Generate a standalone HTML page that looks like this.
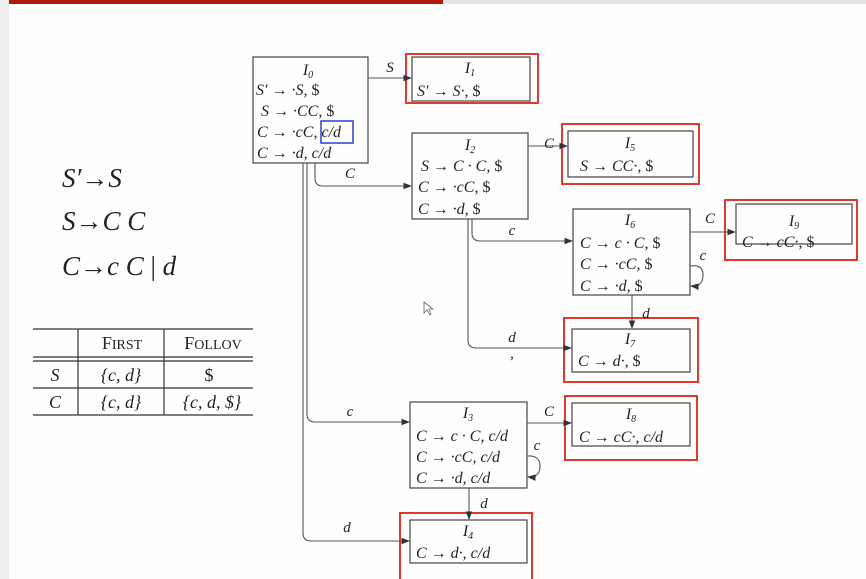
<!DOCTYPE html>
<html><head><meta charset="utf-8"><style>
body{margin:0;width:866px;height:579px;overflow:hidden;background:#fefefe;}
svg{position:absolute;left:0;top:0}
text{font-family:"Liberation Serif",serif;font-style:italic;fill:#222}
.n{font-style:normal}
</style></head><body>
<svg width="866" height="579" viewBox="0 0 866 579">
<rect x="0" y="0" width="9" height="579" fill="#f0eff0"/>
<rect x="9" y="0" width="434" height="4" fill="#b01a0c"/>
<rect x="443" y="0" width="423" height="4" fill="#e2e2e2"/>
<defs><marker id="a" markerWidth="8" markerHeight="6" refX="7" refY="3" orient="auto"><path d="M0,0L8,3L0,6z" fill="#333"/></marker></defs>
<g font-size="27">
<text x="62" y="187">S′→S</text>
<text x="62" y="230">S→C C</text>
<text x="62" y="275">C→c C <tspan class="n">|</tspan> d</text>
</g>
<g stroke="#333" stroke-width="1.2">
<line x1="33" y1="329" x2="253" y2="329"/>
<line x1="33" y1="357" x2="253" y2="357"/>
<line x1="33" y1="361" x2="253" y2="361"/>
<line x1="33" y1="388" x2="253" y2="388"/>
<line x1="33" y1="415" x2="253" y2="415"/>
<line x1="78" y1="329" x2="78" y2="415"/>
<line x1="164" y1="329" x2="164" y2="415"/>
</g>
<g font-size="18" text-anchor="middle">
<text x="122" y="349" class="n">F<tspan font-size="14">IRST</tspan></text>
<text x="213" y="349" class="n">F<tspan font-size="14">OLLOV</tspan></text>
<text x="55" y="381">S</text><text x="121" y="381">{c, d}</text><text x="209" y="381" class="n">$</text>
<text x="55" y="408">C</text><text x="121" y="408">{c, d}</text><text x="212" y="408">{c, d, $}</text>
</g>
<g fill="none" stroke="#e03a2e" stroke-width="2">
<rect x="406" y="54" width="132" height="49"/>
<rect x="562" y="124" width="137" height="60"/>
<rect x="725" y="200" width="132" height="60"/>
<rect x="564" y="318" width="134" height="64"/>
<rect x="565" y="396" width="132" height="64"/>
<rect x="400" y="513" width="132" height="70"/>
</g>
<rect x="321" y="121" width="32" height="22" fill="none" stroke="#2b3fd6" stroke-width="1.5"/>
<g fill="none" stroke="#444" stroke-width="1.2">
<rect x="253" y="57" width="115" height="106"/>
<rect x="412" y="57" width="118" height="44"/>
<rect x="412" y="133" width="116" height="86"/>
<rect x="568" y="131" width="125" height="46"/>
<rect x="573" y="209" width="117" height="86"/>
<rect x="736" y="204" width="116" height="40"/>
<rect x="572" y="329" width="118" height="43"/>
<rect x="410" y="402" width="117" height="86"/>
<rect x="572" y="403" width="118" height="43"/>
<rect x="410" y="520" width="117" height="43"/>
</g>
<g fill="none" stroke="#555" stroke-width="1.1" marker-end="url(#a)">
<path d="M368 78H411"/>
<path d="M315 163V178Q315 186 323 186H411"/>
<path d="M307 163V414Q307 422 315 422H409"/>
<path d="M303 163V533Q303 541 311 541H409"/>
<path d="M528 146H567"/>
<path d="M472 219V233Q472 241 480 241H572"/>
<path d="M468 219V340Q468 348 476 348H571"/>
<path d="M690 232H735"/>
<path d="M690 266Q703 264 703 275Q703 287 691 286"/>
<path d="M632 295V328"/>
<path d="M527 423H571"/>
<path d="M527 456Q540 455 540 466Q540 478 528 477"/>
<path d="M469 488V519"/>
</g>
<g font-size="15" text-anchor="middle">
<text x="390" y="72">S</text>
<text x="350" y="178">C</text>
<text x="350" y="416">c</text>
<text x="347" y="532">d</text>
<text x="549" y="148">C</text>
<text x="512" y="235">c</text>
<text x="512" y="342">d</text>
<text x="512" y="358">,</text>
<text x="710" y="223">C</text>
<text x="703" y="260">c</text>
<text x="646" y="318">d</text>
<text x="549" y="416">C</text>
<text x="537" y="450">c</text>
<text x="484" y="508">d</text>
</g>
<g font-size="16" text-anchor="start">
<text x="308" y="75" text-anchor="middle">I<tspan font-size="10" dy="3">0</tspan></text>
<text x="256" y="95">S′ → ·S, <tspan class="n">$</tspan></text>
<text x="261" y="116">S → ·CC, <tspan class="n">$</tspan></text>
<text x="257" y="137">C → ·cC, c/d</text>
<text x="257" y="158">C → ·d, c/d</text>
<text x="470" y="73" text-anchor="middle">I<tspan font-size="10" dy="3">1</tspan></text>
<text x="417" y="96">S′ → S·, <tspan class="n">$</tspan></text>
<text x="470" y="150" text-anchor="middle">I<tspan font-size="10" dy="3">2</tspan></text>
<text x="421" y="171">S → C · C, <tspan class="n">$</tspan></text>
<text x="418" y="192">C → ·cC, <tspan class="n">$</tspan></text>
<text x="418" y="214">C → ·d, <tspan class="n">$</tspan></text>
<text x="630" y="148" text-anchor="middle">I<tspan font-size="10" dy="3">5</tspan></text>
<text x="580" y="171">S → CC·, <tspan class="n">$</tspan></text>
<text x="630" y="225" text-anchor="middle">I<tspan font-size="10" dy="3">6</tspan></text>
<text x="580" y="248">C → c · C, <tspan class="n">$</tspan></text>
<text x="580" y="269">C → ·cC, <tspan class="n">$</tspan></text>
<text x="580" y="291">C → ·d, <tspan class="n">$</tspan></text>
<text x="794" y="226" text-anchor="middle">I<tspan font-size="10" dy="3">9</tspan></text>
<text x="742" y="247">C → cC·, <tspan class="n">$</tspan></text>
<text x="630" y="344" text-anchor="middle">I<tspan font-size="10" dy="3">7</tspan></text>
<text x="578" y="366">C → d·, <tspan class="n">$</tspan></text>
<text x="468" y="418" text-anchor="middle">I<tspan font-size="10" dy="3">3</tspan></text>
<text x="416" y="441">C → c · C, c/d</text>
<text x="416" y="462">C → ·cC, c/d</text>
<text x="416" y="483">C → ·d, c/d</text>
<text x="631" y="419" text-anchor="middle">I<tspan font-size="10" dy="3">8</tspan></text>
<text x="579" y="442">C → cC·, c/d</text>
<text x="468" y="536" text-anchor="middle">I<tspan font-size="10" dy="3">4</tspan></text>
<text x="416" y="558">C → d·, c/d</text>
</g>
<path d="M424 302L424 313L427 310L430 315L431 314L429 309L433 309Z" fill="#fff" stroke="#666" stroke-width="0.8"/>
</svg>
</body></html>
